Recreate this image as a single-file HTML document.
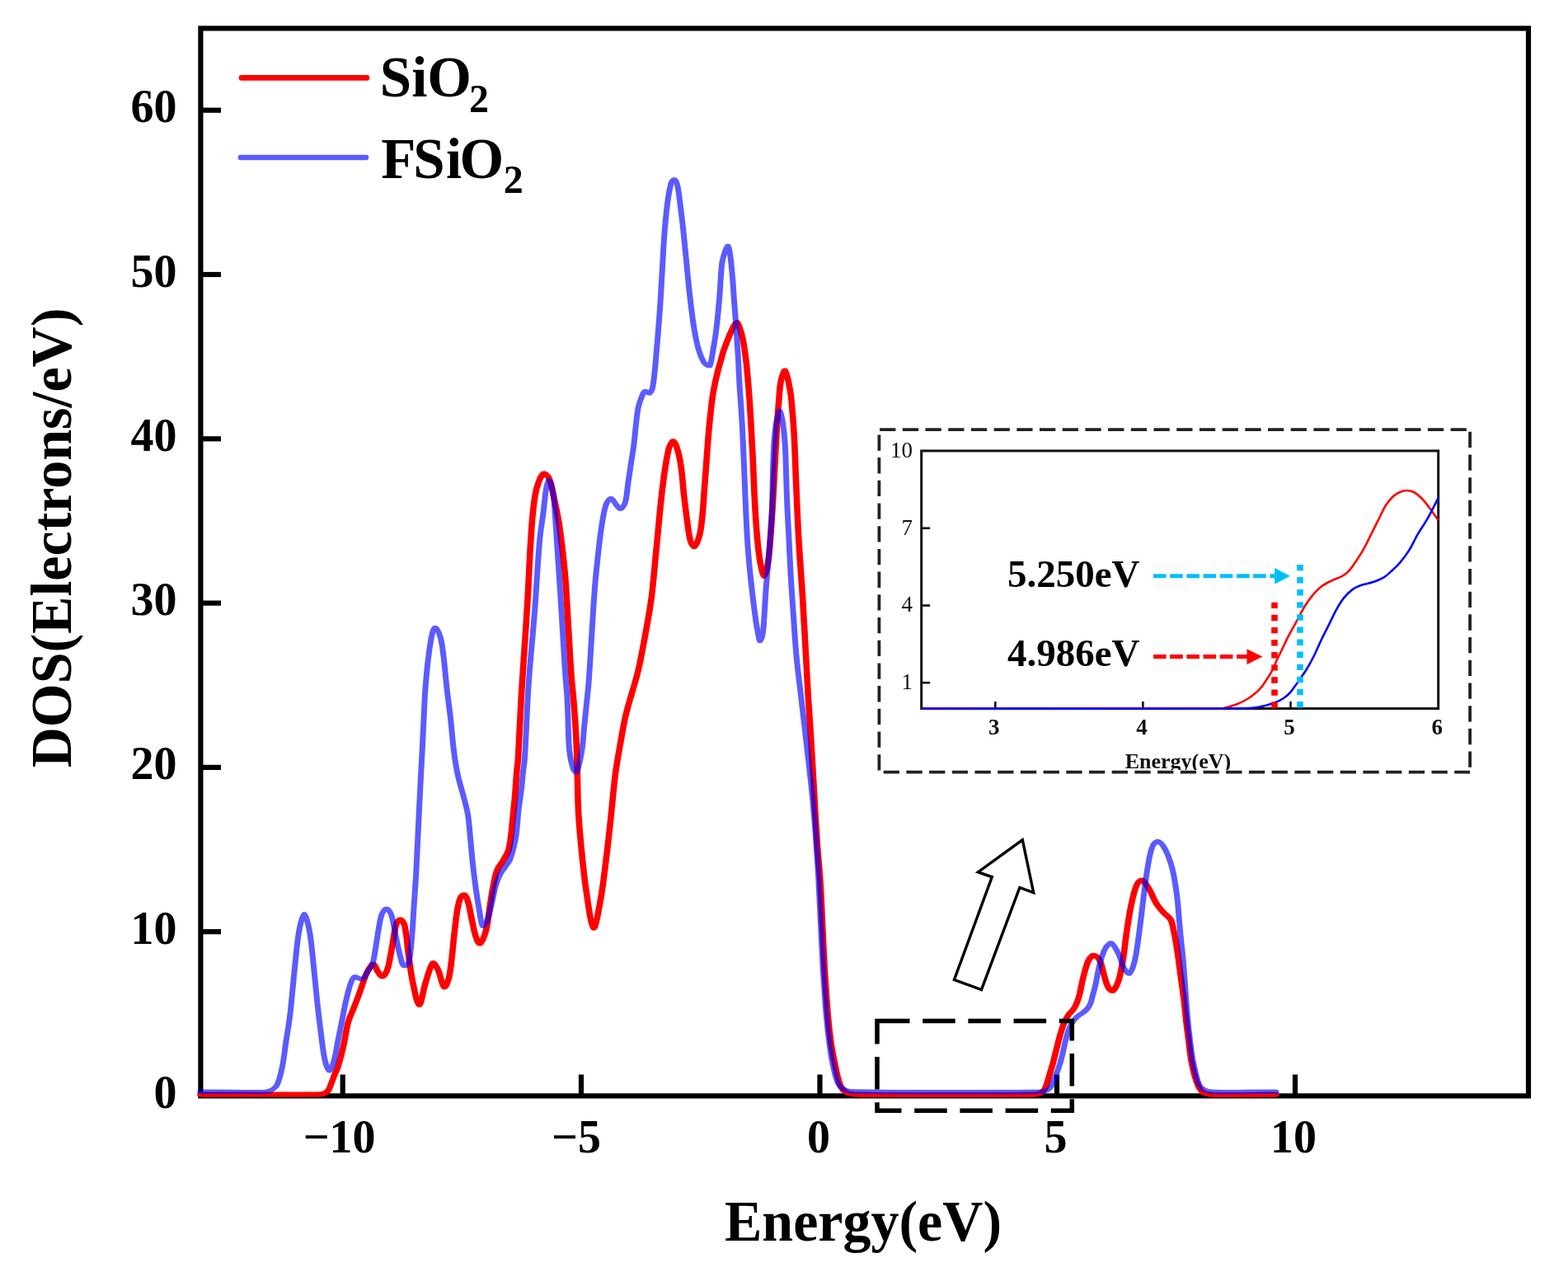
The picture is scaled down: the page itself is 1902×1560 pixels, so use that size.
<!DOCTYPE html>
<html><head><meta charset="utf-8"><title>DOS plot</title>
<style>html,body{margin:0;padding:0;background:#fff;width:1902px;height:1560px;overflow:hidden}svg{display:block}</style>
</head><body>
<svg width="1902" height="1560" viewBox="0 0 1902 1560" font-family="'Liberation Serif', 'Times New Roman', serif" font-weight="bold">
<rect width="1902" height="1560" fill="#fff"/>
<rect x="243.4" y="34.4" width="1610.6" height="1295.0" fill="none" stroke="#000" stroke-width="6.2" stroke-linejoin="miter"/>
<line x1="243.4" y1="1130.2" x2="268" y2="1130.2" stroke="#000" stroke-width="6.2"/>
<line x1="243.4" y1="930.9" x2="268" y2="930.9" stroke="#000" stroke-width="6.2"/>
<line x1="243.4" y1="731.6" x2="268" y2="731.6" stroke="#000" stroke-width="6.2"/>
<line x1="243.4" y1="532.3" x2="268" y2="532.3" stroke="#000" stroke-width="6.2"/>
<line x1="243.4" y1="333.0" x2="268" y2="333.0" stroke="#000" stroke-width="6.2"/>
<line x1="243.4" y1="133.7" x2="268" y2="133.7" stroke="#000" stroke-width="6.2"/>
<line x1="415.7" y1="1329.4" x2="415.7" y2="1303.5" stroke="#000" stroke-width="6.2"/>
<line x1="705.0" y1="1329.4" x2="705.0" y2="1303.5" stroke="#000" stroke-width="6.2"/>
<line x1="994.5" y1="1329.4" x2="994.5" y2="1303.5" stroke="#000" stroke-width="6.2"/>
<line x1="1282.0" y1="1329.4" x2="1282.0" y2="1303.5" stroke="#000" stroke-width="6.2"/>
<line x1="1571.0" y1="1329.4" x2="1571.0" y2="1303.5" stroke="#000" stroke-width="6.2"/>
<g font-size="56" text-anchor="end">
<text x="214.5" y="1344.0">0</text>
<text x="214.5" y="1144.7">10</text>
<text x="214.5" y="945.4">20</text>
<text x="214.5" y="746.1">30</text>
<text x="214.5" y="546.8">40</text>
<text x="214.5" y="347.5">50</text>
<text x="214.5" y="148.2">60</text>
</g>
<g font-size="56" text-anchor="middle">
<text x="411.6" y="1398">−10</text>
<text x="699.0" y="1398">−5</text>
<text x="993.1" y="1398">0</text>
<text x="1280.6" y="1398">5</text>
<text x="1569.1" y="1398">10</text>
</g>
<text transform="translate(1047,1505) scale(1,1.04)" font-size="68" text-anchor="middle">Energy(eV)</text>
<text transform="translate(86,652.5) rotate(-90) scale(1,1.04)" font-size="68" text-anchor="middle">DOS(Electrons/eV)</text>
<line x1="293" y1="94.4" x2="445" y2="94.4" stroke="#f00" stroke-width="6.6" stroke-linecap="round"/>
<line x1="292" y1="191" x2="444" y2="191" stroke="#00f" stroke-opacity="0.64" stroke-width="6.6" stroke-linecap="round"/>
<text x="460.8" y="117.3" font-size="69">SiO<tspan x="569" y="136" font-size="48">2</tspan></text>
<text x="462.3 501.3 540.9 557.5" y="215.9" font-size="69">FSiO<tspan x="610.8" y="233.6" font-size="48">2</tspan></text>
<g fill="none" stroke="#f00" stroke-width="5.80" stroke-linejoin="round" stroke-linecap="round">
<path transform="translate(-0.9,0)" d="M243.0 1327.6C290.3 1327.6 337.7 1327.9 385.0 1327.6C387.7 1327.6 390.5 1327.4 393.0 1326.5C394.9 1325.8 396.9 1324.6 398.0 1323.0C399.9 1320.4 400.8 1317.0 402.0 1314.0C403.3 1310.9 404.3 1307.6 405.5 1304.5C406.9 1301.0 408.8 1297.7 409.9 1294.1C412.3 1286.4 414.4 1278.5 416.2 1270.6C418.6 1260.2 419.8 1249.5 422.5 1239.2C424.0 1233.8 426.8 1228.8 428.8 1223.5C431.5 1216.7 434.1 1209.9 436.6 1203.0C439.3 1195.7 441.3 1188.2 444.4 1181.1C446.0 1177.5 448.1 1173.9 450.5 1171.0C451.1 1170.2 452.9 1169.4 453.5 1170.0C455.4 1171.7 456.3 1175.5 458.0 1178.0C459.5 1180.3 461.2 1183.6 463.1 1184.5C464.2 1185.0 466.2 1183.2 467.0 1182.0C468.7 1179.6 469.9 1176.5 470.7 1173.6C472.8 1165.3 474.1 1156.7 475.7 1148.3C477.5 1139.1 478.1 1129.3 480.8 1120.6C481.5 1118.4 484.3 1115.1 485.8 1115.5C487.7 1116.0 490.2 1120.2 490.9 1123.1C493.6 1135.3 494.1 1148.4 495.9 1161.0C497.4 1171.5 498.6 1182.1 500.9 1192.5C502.8 1201.5 506.0 1219.0 508.5 1219.0C511.0 1219.0 513.3 1201.2 516.1 1192.5C518.7 1184.4 521.3 1172.4 524.9 1168.5C526.3 1167.0 529.8 1173.2 531.2 1176.1C534.4 1182.8 536.0 1196.0 538.8 1197.5C540.7 1198.5 544.1 1188.6 545.1 1183.7C548.1 1167.9 548.9 1151.5 550.8 1135.4C552.0 1125.1 552.9 1114.8 554.6 1104.6C555.5 1099.4 556.4 1093.9 558.5 1089.2C559.3 1087.5 561.9 1084.8 563.1 1085.4C565.0 1086.3 566.8 1090.8 567.7 1093.8C569.8 1100.8 570.7 1108.2 572.3 1115.4C573.8 1122.1 574.9 1128.9 576.9 1135.4C577.9 1138.6 579.7 1144.0 581.5 1144.6C582.8 1145.0 585.2 1140.8 586.2 1138.5C588.3 1133.7 589.7 1128.3 590.8 1123.1C592.5 1114.5 593.2 1105.6 594.6 1096.9C595.8 1089.2 596.9 1081.4 598.5 1073.8C599.8 1067.6 600.8 1061.2 603.1 1055.4C604.9 1051.0 608.4 1047.3 610.8 1043.1C613.0 1039.1 615.6 1035.1 616.9 1030.8C618.7 1024.9 619.2 1018.5 620.0 1012.3C621.0 1004.6 621.5 996.9 622.3 989.2C623.1 981.5 623.9 973.9 624.6 966.2C625.5 955.9 626.0 945.7 626.9 935.4C627.3 930.3 628.2 925.2 628.5 920.0C630.0 894.5 630.9 868.9 632.4 843.4C634.2 813.9 636.4 784.4 638.3 754.9C639.2 740.9 640.0 727.0 640.8 713.0C641.6 697.6 642.2 682.3 643.1 666.9C644.1 651.5 644.9 636.0 646.5 620.7C647.5 611.0 648.5 601.2 651.1 591.9C652.8 585.8 655.8 577.2 659.2 574.6C660.8 573.4 664.9 577.8 666.1 580.4C669.2 587.4 670.2 595.7 671.9 603.4C674.0 613.0 676.1 622.6 677.7 632.3C679.6 643.8 680.9 655.3 682.3 666.9C683.6 678.4 684.9 689.9 685.8 701.5C686.9 714.7 687.5 728.0 688.3 741.2C689.1 754.9 689.9 768.5 690.7 782.2C691.5 795.9 692.3 809.5 693.3 823.2C693.8 830.0 694.7 836.9 695.3 843.7C695.8 849.8 696.4 855.9 696.8 862.0C697.5 871.9 698.2 881.9 698.7 891.8C699.3 903.8 699.7 915.7 700.1 927.7C700.7 946.7 700.6 965.7 701.6 984.6C702.5 1001.6 704.1 1018.5 705.8 1035.4C707.4 1051.4 709.0 1067.5 711.5 1083.4C713.7 1097.6 716.9 1124.1 720.0 1125.7C722.5 1127.0 726.3 1103.3 728.4 1091.9C731.5 1075.1 733.3 1058.0 735.4 1041.0C737.5 1024.1 739.3 1007.2 741.1 990.3C742.9 973.5 744.2 956.7 746.3 940.0C747.8 928.3 749.9 916.6 752.0 905.0C754.2 892.3 756.2 879.5 759.2 867.0C763.5 849.2 769.7 831.7 774.0 813.9C777.5 799.3 780.1 784.4 782.8 769.6C785.5 754.9 788.3 740.2 790.2 725.4C792.7 705.8 794.1 686.1 796.1 666.4C798.6 641.8 800.5 617.2 803.5 592.7C805.4 576.9 807.4 560.9 810.9 545.5C811.8 541.7 814.9 535.1 816.7 535.2C818.6 535.3 820.9 542.2 822.0 546.0C824.1 553.2 825.4 560.7 826.4 568.2C827.9 578.8 828.4 589.6 829.6 600.3C830.8 611.0 832.1 621.7 833.6 632.3C834.7 640.3 835.4 648.7 837.6 656.3C838.3 658.9 841.1 663.9 842.4 663.0C844.9 661.2 847.5 653.4 848.8 648.3C850.7 640.5 851.3 632.3 852.1 624.3C853.2 613.6 853.7 602.9 854.5 592.2C855.3 581.5 856.1 570.9 856.9 560.2C857.7 549.5 858.4 538.8 859.3 528.1C860.2 517.4 861.3 506.7 862.5 496.1C863.3 488.7 864.2 481.3 865.5 474.0C866.9 466.3 868.6 458.6 870.5 451.0C871.6 446.3 873.2 441.7 874.5 437.0C875.5 433.3 876.3 429.6 877.5 426.0C879.8 419.4 882.3 412.9 885.0 406.5C886.8 402.2 888.6 397.8 891.0 394.0C891.8 392.8 894.0 390.5 894.6 391.5C897.4 396.3 899.5 404.6 901.0 411.3C902.9 419.7 903.8 428.3 904.9 436.9C906.0 445.4 906.6 454.0 907.4 462.6C908.1 471.1 908.8 479.7 909.4 488.2C910.1 498.9 910.7 509.6 911.3 520.3C912.0 532.2 912.6 544.1 913.2 556.0C914.0 572.7 914.5 589.5 915.4 606.2C916.2 621.6 917.1 637.0 918.5 652.3C919.4 662.6 920.5 672.9 922.3 683.1C923.3 688.5 925.4 699.0 926.9 699.0C928.4 699.0 930.6 688.5 931.5 683.1C933.2 673.0 933.8 662.6 934.6 652.3C935.8 637.0 936.8 621.6 937.7 606.2C938.8 588.5 939.5 570.7 940.5 553.0C941.2 539.9 941.9 526.9 942.7 513.8C943.2 505.3 943.9 496.7 944.6 488.2C945.4 479.7 945.5 470.9 947.2 462.6C948.1 458.1 951.0 448.2 952.3 449.7C954.8 452.5 957.2 466.7 958.7 475.4C960.2 483.8 960.6 492.5 961.3 501.0C962.1 509.6 962.7 518.1 963.2 526.7C963.8 536.5 964.1 546.2 964.5 556.0C965.2 572.7 965.7 589.3 966.5 606.0C967.3 624.0 968.1 642.0 969.2 660.0C970.4 680.5 972.1 701.0 973.4 721.5C974.7 742.0 975.8 762.5 976.9 783.0C978.1 803.5 979.1 824.1 980.3 844.6C981.2 860.0 982.4 875.4 983.4 890.8C984.7 911.0 985.8 931.2 987.0 951.4C987.8 964.9 988.5 978.3 989.3 991.8C990.1 1004.5 990.9 1017.3 991.8 1030.0C992.8 1043.1 994.2 1056.2 995.0 1069.3C996.2 1088.1 996.9 1106.9 997.8 1125.7C998.8 1144.5 999.5 1163.4 1000.7 1182.2C1001.9 1201.0 1003.2 1219.8 1004.9 1238.6C1005.7 1247.4 1006.7 1256.2 1008.0 1265.0C1009.2 1273.2 1010.7 1281.3 1012.5 1289.4C1014.5 1298.7 1016.0 1308.4 1019.5 1317.0C1020.9 1320.4 1023.8 1323.9 1027.0 1325.5C1030.7 1327.4 1035.6 1327.6 1040.0 1327.6C1111.6 1328.3 1183.4 1328.1 1255.0 1327.6C1257.4 1327.6 1259.8 1326.9 1262.0 1326.0C1263.3 1325.5 1264.6 1324.6 1265.5 1323.5C1266.8 1322.0 1267.9 1320.1 1268.6 1318.2C1270.4 1313.6 1271.6 1308.7 1273.0 1304.0C1274.5 1298.9 1276.1 1293.8 1277.5 1288.7C1280.1 1278.9 1282.2 1269.0 1284.9 1259.2C1286.5 1253.3 1288.2 1247.3 1290.5 1241.6C1292.0 1237.9 1293.9 1234.3 1296.1 1231.0C1297.7 1228.7 1300.2 1227.0 1301.8 1224.7C1303.5 1222.3 1304.9 1219.7 1306.0 1217.0C1307.4 1213.6 1308.6 1210.0 1309.5 1206.4C1310.7 1201.8 1311.3 1197.0 1312.4 1192.3C1313.5 1187.6 1314.6 1182.9 1315.9 1178.2C1317.1 1173.9 1318.3 1169.5 1320.1 1165.5C1321.1 1163.4 1322.6 1161.3 1324.3 1159.9C1325.2 1159.2 1326.8 1158.9 1327.9 1159.2C1329.4 1159.6 1331.1 1160.7 1332.1 1162.0C1333.7 1164.0 1334.7 1166.6 1335.6 1169.0C1336.8 1172.4 1337.4 1176.1 1338.4 1179.6C1339.6 1183.8 1340.5 1188.2 1342.0 1192.3C1342.9 1194.8 1343.8 1197.6 1345.5 1199.5C1346.6 1200.7 1349.2 1202.6 1350.3 1201.7C1353.0 1199.3 1355.4 1194.0 1356.8 1189.7C1359.4 1181.3 1360.8 1172.3 1362.3 1163.5C1364.1 1152.7 1365.0 1141.7 1366.6 1130.8C1368.2 1119.9 1369.8 1108.9 1372.1 1098.1C1373.8 1090.0 1375.4 1081.5 1378.6 1074.1C1379.8 1071.3 1383.2 1067.0 1385.2 1067.6C1388.3 1068.5 1391.5 1074.6 1393.9 1078.5C1397.3 1084.0 1399.2 1090.4 1402.6 1095.9C1405.0 1099.8 1408.2 1103.3 1411.3 1106.8C1414.0 1109.9 1418.0 1112.1 1420.0 1115.5C1422.1 1119.1 1422.5 1123.8 1423.5 1128.0C1424.4 1131.8 1425.1 1135.7 1425.8 1139.6C1426.9 1146.0 1427.9 1152.4 1428.8 1158.8C1429.6 1164.2 1430.3 1169.5 1431.0 1174.9C1432.0 1182.1 1432.9 1189.2 1433.9 1196.4C1434.8 1202.9 1435.7 1209.5 1436.5 1216.0C1437.2 1222.3 1437.7 1228.7 1438.4 1235.0C1439.4 1244.0 1440.6 1253.0 1441.8 1262.0C1442.8 1270.2 1443.6 1278.4 1445.0 1286.5C1446.1 1293.0 1447.6 1299.4 1449.4 1305.8C1450.5 1309.7 1451.7 1313.7 1453.5 1317.3C1454.9 1320.1 1456.5 1323.4 1459.0 1325.0C1462.0 1326.9 1466.2 1327.5 1470.0 1327.6C1495.9 1328.4 1522.0 1327.6 1548.0 1327.6"/>
<path transform="translate(0.9,0)" d="M243.0 1327.6C290.3 1327.6 337.7 1327.9 385.0 1327.6C387.7 1327.6 390.5 1327.4 393.0 1326.5C394.9 1325.8 396.9 1324.6 398.0 1323.0C399.9 1320.4 400.8 1317.0 402.0 1314.0C403.3 1310.9 404.3 1307.6 405.5 1304.5C406.9 1301.0 408.8 1297.7 409.9 1294.1C412.3 1286.4 414.4 1278.5 416.2 1270.6C418.6 1260.2 419.8 1249.5 422.5 1239.2C424.0 1233.8 426.8 1228.8 428.8 1223.5C431.5 1216.7 434.1 1209.9 436.6 1203.0C439.3 1195.7 441.3 1188.2 444.4 1181.1C446.0 1177.5 448.1 1173.9 450.5 1171.0C451.1 1170.2 452.9 1169.4 453.5 1170.0C455.4 1171.7 456.3 1175.5 458.0 1178.0C459.5 1180.3 461.2 1183.6 463.1 1184.5C464.2 1185.0 466.2 1183.2 467.0 1182.0C468.7 1179.6 469.9 1176.5 470.7 1173.6C472.8 1165.3 474.1 1156.7 475.7 1148.3C477.5 1139.1 478.1 1129.3 480.8 1120.6C481.5 1118.4 484.3 1115.1 485.8 1115.5C487.7 1116.0 490.2 1120.2 490.9 1123.1C493.6 1135.3 494.1 1148.4 495.9 1161.0C497.4 1171.5 498.6 1182.1 500.9 1192.5C502.8 1201.5 506.0 1219.0 508.5 1219.0C511.0 1219.0 513.3 1201.2 516.1 1192.5C518.7 1184.4 521.3 1172.4 524.9 1168.5C526.3 1167.0 529.8 1173.2 531.2 1176.1C534.4 1182.8 536.0 1196.0 538.8 1197.5C540.7 1198.5 544.1 1188.6 545.1 1183.7C548.1 1167.9 548.9 1151.5 550.8 1135.4C552.0 1125.1 552.9 1114.8 554.6 1104.6C555.5 1099.4 556.4 1093.9 558.5 1089.2C559.3 1087.5 561.9 1084.8 563.1 1085.4C565.0 1086.3 566.8 1090.8 567.7 1093.8C569.8 1100.8 570.7 1108.2 572.3 1115.4C573.8 1122.1 574.9 1128.9 576.9 1135.4C577.9 1138.6 579.7 1144.0 581.5 1144.6C582.8 1145.0 585.2 1140.8 586.2 1138.5C588.3 1133.7 589.7 1128.3 590.8 1123.1C592.5 1114.5 593.2 1105.6 594.6 1096.9C595.8 1089.2 596.9 1081.4 598.5 1073.8C599.8 1067.6 600.8 1061.2 603.1 1055.4C604.9 1051.0 608.4 1047.3 610.8 1043.1C613.0 1039.1 615.6 1035.1 616.9 1030.8C618.7 1024.9 619.2 1018.5 620.0 1012.3C621.0 1004.6 621.5 996.9 622.3 989.2C623.1 981.5 623.9 973.9 624.6 966.2C625.5 955.9 626.0 945.7 626.9 935.4C627.3 930.3 628.2 925.2 628.5 920.0C630.0 894.5 630.9 868.9 632.4 843.4C634.2 813.9 636.4 784.4 638.3 754.9C639.2 740.9 640.0 727.0 640.8 713.0C641.6 697.6 642.2 682.3 643.1 666.9C644.1 651.5 644.9 636.0 646.5 620.7C647.5 611.0 648.5 601.2 651.1 591.9C652.8 585.8 655.8 577.2 659.2 574.6C660.8 573.4 664.9 577.8 666.1 580.4C669.2 587.4 670.2 595.7 671.9 603.4C674.0 613.0 676.1 622.6 677.7 632.3C679.6 643.8 680.9 655.3 682.3 666.9C683.6 678.4 684.9 689.9 685.8 701.5C686.9 714.7 687.5 728.0 688.3 741.2C689.1 754.9 689.9 768.5 690.7 782.2C691.5 795.9 692.3 809.5 693.3 823.2C693.8 830.0 694.7 836.9 695.3 843.7C695.8 849.8 696.4 855.9 696.8 862.0C697.5 871.9 698.2 881.9 698.7 891.8C699.3 903.8 699.7 915.7 700.1 927.7C700.7 946.7 700.6 965.7 701.6 984.6C702.5 1001.6 704.1 1018.5 705.8 1035.4C707.4 1051.4 709.0 1067.5 711.5 1083.4C713.7 1097.6 716.9 1124.1 720.0 1125.7C722.5 1127.0 726.3 1103.3 728.4 1091.9C731.5 1075.1 733.3 1058.0 735.4 1041.0C737.5 1024.1 739.3 1007.2 741.1 990.3C742.9 973.5 744.2 956.7 746.3 940.0C747.8 928.3 749.9 916.6 752.0 905.0C754.2 892.3 756.2 879.5 759.2 867.0C763.5 849.2 769.7 831.7 774.0 813.9C777.5 799.3 780.1 784.4 782.8 769.6C785.5 754.9 788.3 740.2 790.2 725.4C792.7 705.8 794.1 686.1 796.1 666.4C798.6 641.8 800.5 617.2 803.5 592.7C805.4 576.9 807.4 560.9 810.9 545.5C811.8 541.7 814.9 535.1 816.7 535.2C818.6 535.3 820.9 542.2 822.0 546.0C824.1 553.2 825.4 560.7 826.4 568.2C827.9 578.8 828.4 589.6 829.6 600.3C830.8 611.0 832.1 621.7 833.6 632.3C834.7 640.3 835.4 648.7 837.6 656.3C838.3 658.9 841.1 663.9 842.4 663.0C844.9 661.2 847.5 653.4 848.8 648.3C850.7 640.5 851.3 632.3 852.1 624.3C853.2 613.6 853.7 602.9 854.5 592.2C855.3 581.5 856.1 570.9 856.9 560.2C857.7 549.5 858.4 538.8 859.3 528.1C860.2 517.4 861.3 506.7 862.5 496.1C863.3 488.7 864.2 481.3 865.5 474.0C866.9 466.3 868.6 458.6 870.5 451.0C871.6 446.3 873.2 441.7 874.5 437.0C875.5 433.3 876.3 429.6 877.5 426.0C879.8 419.4 882.3 412.9 885.0 406.5C886.8 402.2 888.6 397.8 891.0 394.0C891.8 392.8 894.0 390.5 894.6 391.5C897.4 396.3 899.5 404.6 901.0 411.3C902.9 419.7 903.8 428.3 904.9 436.9C906.0 445.4 906.6 454.0 907.4 462.6C908.1 471.1 908.8 479.7 909.4 488.2C910.1 498.9 910.7 509.6 911.3 520.3C912.0 532.2 912.6 544.1 913.2 556.0C914.0 572.7 914.5 589.5 915.4 606.2C916.2 621.6 917.1 637.0 918.5 652.3C919.4 662.6 920.5 672.9 922.3 683.1C923.3 688.5 925.4 699.0 926.9 699.0C928.4 699.0 930.6 688.5 931.5 683.1C933.2 673.0 933.8 662.6 934.6 652.3C935.8 637.0 936.8 621.6 937.7 606.2C938.8 588.5 939.5 570.7 940.5 553.0C941.2 539.9 941.9 526.9 942.7 513.8C943.2 505.3 943.9 496.7 944.6 488.2C945.4 479.7 945.5 470.9 947.2 462.6C948.1 458.1 951.0 448.2 952.3 449.7C954.8 452.5 957.2 466.7 958.7 475.4C960.2 483.8 960.6 492.5 961.3 501.0C962.1 509.6 962.7 518.1 963.2 526.7C963.8 536.5 964.1 546.2 964.5 556.0C965.2 572.7 965.7 589.3 966.5 606.0C967.3 624.0 968.1 642.0 969.2 660.0C970.4 680.5 972.1 701.0 973.4 721.5C974.7 742.0 975.8 762.5 976.9 783.0C978.1 803.5 979.1 824.1 980.3 844.6C981.2 860.0 982.4 875.4 983.4 890.8C984.7 911.0 985.8 931.2 987.0 951.4C987.8 964.9 988.5 978.3 989.3 991.8C990.1 1004.5 990.9 1017.3 991.8 1030.0C992.8 1043.1 994.2 1056.2 995.0 1069.3C996.2 1088.1 996.9 1106.9 997.8 1125.7C998.8 1144.5 999.5 1163.4 1000.7 1182.2C1001.9 1201.0 1003.2 1219.8 1004.9 1238.6C1005.7 1247.4 1006.7 1256.2 1008.0 1265.0C1009.2 1273.2 1010.7 1281.3 1012.5 1289.4C1014.5 1298.7 1016.0 1308.4 1019.5 1317.0C1020.9 1320.4 1023.8 1323.9 1027.0 1325.5C1030.7 1327.4 1035.6 1327.6 1040.0 1327.6C1111.6 1328.3 1183.4 1328.1 1255.0 1327.6C1257.4 1327.6 1259.8 1326.9 1262.0 1326.0C1263.3 1325.5 1264.6 1324.6 1265.5 1323.5C1266.8 1322.0 1267.9 1320.1 1268.6 1318.2C1270.4 1313.6 1271.6 1308.7 1273.0 1304.0C1274.5 1298.9 1276.1 1293.8 1277.5 1288.7C1280.1 1278.9 1282.2 1269.0 1284.9 1259.2C1286.5 1253.3 1288.2 1247.3 1290.5 1241.6C1292.0 1237.9 1293.9 1234.3 1296.1 1231.0C1297.7 1228.7 1300.2 1227.0 1301.8 1224.7C1303.5 1222.3 1304.9 1219.7 1306.0 1217.0C1307.4 1213.6 1308.6 1210.0 1309.5 1206.4C1310.7 1201.8 1311.3 1197.0 1312.4 1192.3C1313.5 1187.6 1314.6 1182.9 1315.9 1178.2C1317.1 1173.9 1318.3 1169.5 1320.1 1165.5C1321.1 1163.4 1322.6 1161.3 1324.3 1159.9C1325.2 1159.2 1326.8 1158.9 1327.9 1159.2C1329.4 1159.6 1331.1 1160.7 1332.1 1162.0C1333.7 1164.0 1334.7 1166.6 1335.6 1169.0C1336.8 1172.4 1337.4 1176.1 1338.4 1179.6C1339.6 1183.8 1340.5 1188.2 1342.0 1192.3C1342.9 1194.8 1343.8 1197.6 1345.5 1199.5C1346.6 1200.7 1349.2 1202.6 1350.3 1201.7C1353.0 1199.3 1355.4 1194.0 1356.8 1189.7C1359.4 1181.3 1360.8 1172.3 1362.3 1163.5C1364.1 1152.7 1365.0 1141.7 1366.6 1130.8C1368.2 1119.9 1369.8 1108.9 1372.1 1098.1C1373.8 1090.0 1375.4 1081.5 1378.6 1074.1C1379.8 1071.3 1383.2 1067.0 1385.2 1067.6C1388.3 1068.5 1391.5 1074.6 1393.9 1078.5C1397.3 1084.0 1399.2 1090.4 1402.6 1095.9C1405.0 1099.8 1408.2 1103.3 1411.3 1106.8C1414.0 1109.9 1418.0 1112.1 1420.0 1115.5C1422.1 1119.1 1422.5 1123.8 1423.5 1128.0C1424.4 1131.8 1425.1 1135.7 1425.8 1139.6C1426.9 1146.0 1427.9 1152.4 1428.8 1158.8C1429.6 1164.2 1430.3 1169.5 1431.0 1174.9C1432.0 1182.1 1432.9 1189.2 1433.9 1196.4C1434.8 1202.9 1435.7 1209.5 1436.5 1216.0C1437.2 1222.3 1437.7 1228.7 1438.4 1235.0C1439.4 1244.0 1440.6 1253.0 1441.8 1262.0C1442.8 1270.2 1443.6 1278.4 1445.0 1286.5C1446.1 1293.0 1447.6 1299.4 1449.4 1305.8C1450.5 1309.7 1451.7 1313.7 1453.5 1317.3C1454.9 1320.1 1456.5 1323.4 1459.0 1325.0C1462.0 1326.9 1466.2 1327.5 1470.0 1327.6C1495.9 1328.4 1522.0 1327.6 1548.0 1327.6"/>
</g>
<g opacity="0.64" fill="none" stroke="#00f" stroke-width="5.20" stroke-linejoin="round" stroke-linecap="round">
<path transform="translate(-0.9,0)" d="M243.0 1324.3C269.3 1324.3 295.7 1324.8 322.0 1324.3C324.4 1324.2 327.0 1323.7 329.0 1322.5C331.7 1320.9 334.8 1318.8 336.1 1316.0C339.2 1309.3 340.9 1301.5 342.4 1294.0C344.5 1283.7 345.5 1273.1 347.1 1262.7C348.7 1252.2 350.5 1241.8 351.8 1231.3C353.1 1220.9 353.9 1210.4 355.0 1199.9C356.0 1189.4 356.9 1179.0 358.1 1168.5C359.5 1155.4 360.4 1142.2 362.8 1129.3C364.1 1122.3 367.0 1108.9 369.1 1108.9C371.2 1108.9 374.1 1122.3 375.4 1129.3C377.8 1142.2 378.7 1155.4 380.1 1168.5C381.8 1184.2 383.1 1199.9 384.8 1215.6C386.2 1228.7 387.8 1241.8 389.5 1254.9C390.9 1265.4 391.8 1276.1 394.2 1286.3C395.2 1290.7 397.9 1298.8 399.7 1298.8C401.5 1298.8 404.0 1290.7 405.2 1286.3C407.4 1278.6 408.3 1270.6 409.9 1262.7C411.5 1254.9 413.0 1247.0 414.6 1239.2C416.2 1231.3 417.5 1223.4 419.3 1215.6C421.1 1207.7 422.9 1199.7 425.6 1192.1C426.6 1189.4 428.2 1185.8 430.3 1184.9C431.9 1184.2 434.5 1187.2 436.6 1187.4C438.2 1187.6 440.5 1187.3 441.6 1186.2C443.8 1184.0 444.9 1180.3 446.7 1177.4C448.3 1174.8 450.8 1172.6 451.7 1169.8C453.7 1163.8 454.4 1157.2 455.5 1150.9C456.9 1142.9 457.8 1134.9 459.3 1126.9C460.4 1121.0 461.0 1114.7 463.1 1109.2C464.1 1106.5 466.9 1102.3 468.8 1102.3C470.7 1102.3 473.3 1106.5 474.4 1109.2C476.5 1114.3 477.0 1120.1 478.2 1125.6C480.0 1134.0 481.4 1142.5 483.3 1150.9C484.8 1157.3 486.1 1163.8 488.3 1169.8C488.7 1170.8 490.1 1172.0 490.9 1171.7C492.6 1171.1 495.4 1169.4 495.9 1167.3C498.3 1157.4 498.7 1146.3 499.7 1135.7C500.8 1123.1 501.4 1110.5 502.2 1097.9C503.0 1085.3 504.0 1072.6 504.7 1060.0C506.2 1031.7 507.3 1003.3 508.8 975.0C509.8 953.8 511.0 932.7 512.1 911.5C512.8 898.7 513.3 885.8 514.0 873.0C514.6 860.2 515.0 847.4 516.0 834.6C517.0 821.7 518.2 808.8 519.8 796.0C521.0 786.4 522.4 776.6 524.6 767.3C525.1 765.1 527.0 760.8 528.1 761.5C530.2 762.7 533.0 768.9 534.2 773.0C536.3 780.4 537.0 788.3 538.0 796.0C539.6 808.8 540.5 821.7 542.0 834.6C543.4 847.4 545.3 860.2 546.7 873.0C548.1 885.8 548.9 898.7 550.6 911.5C551.8 921.2 553.3 930.9 555.4 940.4C557.5 950.1 560.7 959.6 563.1 969.2C564.8 975.8 566.7 982.4 567.7 989.2C569.2 999.4 569.8 1009.7 570.8 1020.0C571.8 1030.3 572.7 1040.6 573.8 1050.8C575.0 1061.1 576.2 1071.3 577.7 1081.5C578.8 1089.2 580.1 1096.9 581.5 1104.6C582.6 1110.8 583.2 1120.2 585.4 1123.1C586.3 1124.3 589.8 1119.4 590.8 1116.9C593.7 1109.6 595.0 1101.5 596.9 1093.8C598.5 1087.2 599.6 1080.4 601.5 1073.8C602.7 1069.6 604.2 1065.4 606.2 1061.5C607.8 1058.2 610.3 1055.4 612.3 1052.3C614.4 1049.2 617.0 1046.4 618.5 1043.1C620.6 1038.2 621.8 1032.9 623.1 1027.7C624.4 1022.6 625.5 1017.5 626.2 1012.3C627.5 1002.1 628.0 991.7 629.2 981.5C630.1 973.8 631.4 966.2 632.3 958.5C633.2 950.8 633.8 943.1 634.6 935.4C635.2 930.3 636.2 925.2 636.5 920.0C638.4 889.6 639.2 859.0 641.3 828.6C643.3 799.1 646.4 769.7 648.7 740.2C650.9 711.9 652.1 683.6 654.6 655.4C655.6 643.8 657.7 632.3 659.2 620.7C660.4 611.1 661.0 601.4 662.7 591.9C663.3 588.7 665.1 582.0 666.1 582.7C667.8 583.9 669.9 592.6 670.8 597.7C672.2 605.2 672.5 613.0 673.1 620.7C674.0 632.3 674.6 643.8 675.4 655.4C676.4 670.3 677.4 685.3 678.4 700.2C679.3 713.9 680.1 727.5 681.0 741.2C681.8 754.9 682.7 768.5 683.5 782.2C684.4 795.9 685.1 809.5 686.1 823.2C686.6 830.0 687.4 836.9 687.8 843.7C688.3 850.8 688.5 857.8 688.8 864.9C689.4 879.9 689.2 894.9 690.6 909.8C691.3 917.4 692.8 925.2 695.1 932.2C695.8 934.2 698.9 938.1 699.6 936.7C702.5 930.6 704.4 918.9 705.9 909.8C707.4 900.9 707.7 891.8 708.6 882.8C709.5 873.8 710.4 864.9 711.3 855.9C712.2 846.9 713.3 838.0 714.0 829.0C715.4 811.0 716.3 793.0 717.5 775.0C718.8 754.3 719.9 733.6 721.5 713.0C722.7 697.6 724.4 682.2 726.1 666.9C727.4 655.3 728.8 643.8 730.7 632.3C731.9 625.3 733.0 618.0 735.4 611.5C736.4 608.8 739.2 604.6 741.1 604.6C743.0 604.6 744.9 609.3 746.9 611.5C748.7 613.5 751.0 617.6 752.7 617.3C754.8 616.9 757.5 612.3 758.4 609.2C760.6 601.9 760.7 593.8 761.9 586.1C763.0 578.4 764.2 570.8 765.3 563.1C766.5 555.4 767.8 547.7 768.8 540.0C770.7 525.2 771.4 510.1 774.0 495.4C775.1 489.3 777.5 483.3 779.9 477.7C780.5 476.4 781.8 474.6 783.0 474.5C784.5 474.4 786.9 477.8 788.0 477.0C789.9 475.6 791.5 471.2 792.0 468.0C794.4 453.0 795.3 437.5 796.7 422.3C798.1 406.8 799.3 391.3 800.4 375.8C801.5 360.3 802.3 344.9 803.2 329.4C804.1 313.9 804.8 298.4 806.0 282.9C807.0 270.5 808.0 258.1 809.7 245.8C810.8 237.7 812.0 229.3 814.3 221.6C814.8 220.0 817.0 217.4 818.0 217.9C819.5 218.7 821.2 222.6 821.8 225.3C823.7 233.8 824.4 242.6 825.5 251.3C826.9 261.8 828.1 272.4 829.2 282.9C830.5 295.3 831.7 307.7 832.9 320.1C834.1 332.5 835.2 344.9 836.6 357.3C838.0 369.7 839.4 382.1 841.3 394.4C842.8 403.8 844.4 413.2 846.9 422.3C848.5 428.0 850.6 433.9 853.4 439.0C854.5 440.9 856.6 442.5 858.5 443.5C859.3 443.9 861.0 444.1 861.3 443.3C863.2 437.6 864.0 430.5 865.1 424.1C866.6 415.6 868.0 407.1 869.0 398.5C870.5 385.7 871.7 372.8 872.8 360.0C873.9 346.7 874.1 333.3 875.7 320.1C876.3 315.0 877.8 310.0 879.4 305.2C880.2 302.8 882.2 298.1 883.1 298.5C884.2 299.0 885.0 304.8 885.5 308.0C886.4 313.6 886.9 319.3 887.5 325.0C888.2 331.7 888.7 338.3 889.2 345.0C889.7 351.5 890.0 358.1 890.5 364.6C891.1 372.3 891.7 380.0 892.3 387.7C892.8 395.4 893.3 403.1 893.8 410.8C894.3 418.5 895.0 426.1 895.4 433.8C896.0 444.1 896.3 454.3 896.9 464.6C897.3 472.3 898.0 480.0 898.5 487.7C899.2 498.5 899.9 509.2 900.5 520.0C901.2 533.3 901.7 546.7 902.3 560.0C903.2 580.5 903.8 601.0 904.8 621.5C905.6 637.2 906.3 652.9 907.5 668.6C908.7 684.5 910.4 700.3 912.2 716.1C913.6 728.8 915.2 741.5 917.0 754.1C917.7 758.8 918.6 763.4 919.5 768.0C920.1 771.2 920.6 776.7 921.6 777.5C922.2 778.0 924.0 774.0 924.5 772.0C925.5 768.1 925.9 764.0 926.2 760.0C927.4 744.6 928.0 729.2 929.2 713.8C930.3 698.4 931.9 683.1 933.1 667.7C934.3 652.3 935.5 636.9 936.2 621.5C937.2 599.7 937.2 577.8 938.0 556.0C938.4 546.2 938.9 536.4 939.8 526.7C940.4 520.4 941.2 514.1 942.5 508.0C943.2 504.7 945.0 497.7 945.9 498.5C947.4 499.7 948.9 508.6 949.7 513.8C951.0 522.3 951.8 530.9 952.3 539.5C953.5 561.7 953.7 584.0 954.6 606.2C955.2 621.6 956.1 636.9 956.9 652.3C957.7 667.7 958.3 683.1 959.2 698.5C960.1 713.9 961.2 729.2 962.3 744.6C963.5 761.4 964.4 778.2 966.0 795.0C967.5 811.3 969.6 827.5 971.5 843.8C973.6 861.7 975.7 879.7 977.8 897.6C979.9 915.5 982.0 933.5 983.9 951.4C985.3 964.9 986.6 978.3 987.7 991.8C988.8 1004.5 989.6 1017.3 990.5 1030.0C991.4 1043.0 992.3 1056.0 993.0 1069.0C994.0 1087.9 994.8 1106.8 995.8 1125.7C996.7 1144.5 997.5 1163.4 998.7 1182.2C999.9 1201.0 1001.2 1219.8 1002.9 1238.6C1003.7 1247.4 1004.8 1256.2 1006.0 1265.0C1007.1 1273.2 1008.1 1281.4 1009.8 1289.4C1011.6 1297.7 1013.2 1306.4 1016.5 1314.0C1017.9 1317.1 1021.0 1319.9 1024.0 1321.5C1027.2 1323.3 1031.2 1324.2 1035.0 1324.2C1110.6 1325.1 1186.4 1324.8 1262.0 1324.3C1264.7 1324.3 1267.6 1323.7 1270.0 1322.5C1272.0 1321.6 1273.7 1319.8 1275.0 1318.0C1276.5 1315.9 1277.3 1313.3 1278.2 1310.9C1281.0 1303.6 1284.1 1296.2 1286.3 1288.7C1289.1 1279.0 1290.8 1269.0 1293.3 1259.2C1294.2 1255.7 1295.1 1252.1 1296.5 1248.7C1297.9 1245.3 1299.8 1241.9 1301.8 1238.8C1303.2 1236.7 1304.9 1234.8 1306.7 1233.2C1308.9 1231.3 1311.5 1230.0 1313.8 1228.2C1315.5 1226.9 1317.4 1225.6 1318.7 1224.0C1320.4 1221.9 1321.9 1219.5 1322.9 1217.0C1324.2 1213.6 1324.8 1209.9 1325.7 1206.4C1326.7 1202.9 1327.8 1199.4 1328.6 1195.8C1329.4 1192.3 1330.0 1188.7 1330.7 1185.2C1331.4 1181.7 1332.0 1178.2 1332.8 1174.7C1333.6 1171.1 1334.6 1167.6 1335.6 1164.1C1336.4 1161.2 1337.3 1158.4 1338.4 1155.6C1339.4 1153.2 1340.4 1150.5 1342.0 1148.5C1343.6 1146.6 1346.5 1143.0 1348.1 1143.9C1351.4 1145.8 1354.5 1152.3 1356.8 1157.0C1359.6 1162.5 1360.5 1169.1 1363.4 1174.4C1364.9 1177.1 1368.3 1182.0 1369.9 1181.0C1372.7 1179.1 1375.1 1171.1 1376.4 1165.7C1379.1 1154.3 1380.3 1142.5 1381.9 1130.8C1383.9 1116.3 1385.4 1101.7 1387.3 1087.2C1389.0 1074.1 1390.5 1061.0 1392.8 1048.0C1394.1 1040.6 1395.3 1032.8 1398.2 1026.2C1399.3 1023.7 1402.8 1020.1 1404.8 1020.7C1407.9 1021.6 1411.5 1026.7 1413.5 1030.5C1417.3 1037.9 1420.1 1046.3 1422.2 1054.5C1424.9 1065.2 1426.3 1076.2 1427.7 1087.2C1429.0 1097.4 1429.6 1107.7 1430.5 1118.0C1431.2 1125.2 1431.8 1132.4 1432.5 1139.6C1433.1 1146.0 1434.0 1152.4 1434.6 1158.8C1435.1 1164.2 1435.6 1169.5 1436.0 1174.9C1436.6 1182.1 1437.1 1189.2 1437.6 1196.4C1438.6 1209.3 1439.4 1222.1 1440.6 1235.0C1441.4 1244.0 1442.4 1253.0 1443.5 1262.0C1444.5 1270.2 1445.5 1278.4 1447.0 1286.5C1448.2 1293.0 1449.7 1299.4 1451.4 1305.8C1452.5 1309.7 1453.4 1313.9 1455.4 1317.3C1456.6 1319.3 1458.9 1321.0 1461.0 1322.0C1463.7 1323.3 1466.9 1324.2 1470.0 1324.3C1495.9 1325.0 1522.0 1324.3 1548.0 1324.3"/>
<path transform="translate(0.9,0)" d="M243.0 1324.3C269.3 1324.3 295.7 1324.8 322.0 1324.3C324.4 1324.2 327.0 1323.7 329.0 1322.5C331.7 1320.9 334.8 1318.8 336.1 1316.0C339.2 1309.3 340.9 1301.5 342.4 1294.0C344.5 1283.7 345.5 1273.1 347.1 1262.7C348.7 1252.2 350.5 1241.8 351.8 1231.3C353.1 1220.9 353.9 1210.4 355.0 1199.9C356.0 1189.4 356.9 1179.0 358.1 1168.5C359.5 1155.4 360.4 1142.2 362.8 1129.3C364.1 1122.3 367.0 1108.9 369.1 1108.9C371.2 1108.9 374.1 1122.3 375.4 1129.3C377.8 1142.2 378.7 1155.4 380.1 1168.5C381.8 1184.2 383.1 1199.9 384.8 1215.6C386.2 1228.7 387.8 1241.8 389.5 1254.9C390.9 1265.4 391.8 1276.1 394.2 1286.3C395.2 1290.7 397.9 1298.8 399.7 1298.8C401.5 1298.8 404.0 1290.7 405.2 1286.3C407.4 1278.6 408.3 1270.6 409.9 1262.7C411.5 1254.9 413.0 1247.0 414.6 1239.2C416.2 1231.3 417.5 1223.4 419.3 1215.6C421.1 1207.7 422.9 1199.7 425.6 1192.1C426.6 1189.4 428.2 1185.8 430.3 1184.9C431.9 1184.2 434.5 1187.2 436.6 1187.4C438.2 1187.6 440.5 1187.3 441.6 1186.2C443.8 1184.0 444.9 1180.3 446.7 1177.4C448.3 1174.8 450.8 1172.6 451.7 1169.8C453.7 1163.8 454.4 1157.2 455.5 1150.9C456.9 1142.9 457.8 1134.9 459.3 1126.9C460.4 1121.0 461.0 1114.7 463.1 1109.2C464.1 1106.5 466.9 1102.3 468.8 1102.3C470.7 1102.3 473.3 1106.5 474.4 1109.2C476.5 1114.3 477.0 1120.1 478.2 1125.6C480.0 1134.0 481.4 1142.5 483.3 1150.9C484.8 1157.3 486.1 1163.8 488.3 1169.8C488.7 1170.8 490.1 1172.0 490.9 1171.7C492.6 1171.1 495.4 1169.4 495.9 1167.3C498.3 1157.4 498.7 1146.3 499.7 1135.7C500.8 1123.1 501.4 1110.5 502.2 1097.9C503.0 1085.3 504.0 1072.6 504.7 1060.0C506.2 1031.7 507.3 1003.3 508.8 975.0C509.8 953.8 511.0 932.7 512.1 911.5C512.8 898.7 513.3 885.8 514.0 873.0C514.6 860.2 515.0 847.4 516.0 834.6C517.0 821.7 518.2 808.8 519.8 796.0C521.0 786.4 522.4 776.6 524.6 767.3C525.1 765.1 527.0 760.8 528.1 761.5C530.2 762.7 533.0 768.9 534.2 773.0C536.3 780.4 537.0 788.3 538.0 796.0C539.6 808.8 540.5 821.7 542.0 834.6C543.4 847.4 545.3 860.2 546.7 873.0C548.1 885.8 548.9 898.7 550.6 911.5C551.8 921.2 553.3 930.9 555.4 940.4C557.5 950.1 560.7 959.6 563.1 969.2C564.8 975.8 566.7 982.4 567.7 989.2C569.2 999.4 569.8 1009.7 570.8 1020.0C571.8 1030.3 572.7 1040.6 573.8 1050.8C575.0 1061.1 576.2 1071.3 577.7 1081.5C578.8 1089.2 580.1 1096.9 581.5 1104.6C582.6 1110.8 583.2 1120.2 585.4 1123.1C586.3 1124.3 589.8 1119.4 590.8 1116.9C593.7 1109.6 595.0 1101.5 596.9 1093.8C598.5 1087.2 599.6 1080.4 601.5 1073.8C602.7 1069.6 604.2 1065.4 606.2 1061.5C607.8 1058.2 610.3 1055.4 612.3 1052.3C614.4 1049.2 617.0 1046.4 618.5 1043.1C620.6 1038.2 621.8 1032.9 623.1 1027.7C624.4 1022.6 625.5 1017.5 626.2 1012.3C627.5 1002.1 628.0 991.7 629.2 981.5C630.1 973.8 631.4 966.2 632.3 958.5C633.2 950.8 633.8 943.1 634.6 935.4C635.2 930.3 636.2 925.2 636.5 920.0C638.4 889.6 639.2 859.0 641.3 828.6C643.3 799.1 646.4 769.7 648.7 740.2C650.9 711.9 652.1 683.6 654.6 655.4C655.6 643.8 657.7 632.3 659.2 620.7C660.4 611.1 661.0 601.4 662.7 591.9C663.3 588.7 665.1 582.0 666.1 582.7C667.8 583.9 669.9 592.6 670.8 597.7C672.2 605.2 672.5 613.0 673.1 620.7C674.0 632.3 674.6 643.8 675.4 655.4C676.4 670.3 677.4 685.3 678.4 700.2C679.3 713.9 680.1 727.5 681.0 741.2C681.8 754.9 682.7 768.5 683.5 782.2C684.4 795.9 685.1 809.5 686.1 823.2C686.6 830.0 687.4 836.9 687.8 843.7C688.3 850.8 688.5 857.8 688.8 864.9C689.4 879.9 689.2 894.9 690.6 909.8C691.3 917.4 692.8 925.2 695.1 932.2C695.8 934.2 698.9 938.1 699.6 936.7C702.5 930.6 704.4 918.9 705.9 909.8C707.4 900.9 707.7 891.8 708.6 882.8C709.5 873.8 710.4 864.9 711.3 855.9C712.2 846.9 713.3 838.0 714.0 829.0C715.4 811.0 716.3 793.0 717.5 775.0C718.8 754.3 719.9 733.6 721.5 713.0C722.7 697.6 724.4 682.2 726.1 666.9C727.4 655.3 728.8 643.8 730.7 632.3C731.9 625.3 733.0 618.0 735.4 611.5C736.4 608.8 739.2 604.6 741.1 604.6C743.0 604.6 744.9 609.3 746.9 611.5C748.7 613.5 751.0 617.6 752.7 617.3C754.8 616.9 757.5 612.3 758.4 609.2C760.6 601.9 760.7 593.8 761.9 586.1C763.0 578.4 764.2 570.8 765.3 563.1C766.5 555.4 767.8 547.7 768.8 540.0C770.7 525.2 771.4 510.1 774.0 495.4C775.1 489.3 777.5 483.3 779.9 477.7C780.5 476.4 781.8 474.6 783.0 474.5C784.5 474.4 786.9 477.8 788.0 477.0C789.9 475.6 791.5 471.2 792.0 468.0C794.4 453.0 795.3 437.5 796.7 422.3C798.1 406.8 799.3 391.3 800.4 375.8C801.5 360.3 802.3 344.9 803.2 329.4C804.1 313.9 804.8 298.4 806.0 282.9C807.0 270.5 808.0 258.1 809.7 245.8C810.8 237.7 812.0 229.3 814.3 221.6C814.8 220.0 817.0 217.4 818.0 217.9C819.5 218.7 821.2 222.6 821.8 225.3C823.7 233.8 824.4 242.6 825.5 251.3C826.9 261.8 828.1 272.4 829.2 282.9C830.5 295.3 831.7 307.7 832.9 320.1C834.1 332.5 835.2 344.9 836.6 357.3C838.0 369.7 839.4 382.1 841.3 394.4C842.8 403.8 844.4 413.2 846.9 422.3C848.5 428.0 850.6 433.9 853.4 439.0C854.5 440.9 856.6 442.5 858.5 443.5C859.3 443.9 861.0 444.1 861.3 443.3C863.2 437.6 864.0 430.5 865.1 424.1C866.6 415.6 868.0 407.1 869.0 398.5C870.5 385.7 871.7 372.8 872.8 360.0C873.9 346.7 874.1 333.3 875.7 320.1C876.3 315.0 877.8 310.0 879.4 305.2C880.2 302.8 882.2 298.1 883.1 298.5C884.2 299.0 885.0 304.8 885.5 308.0C886.4 313.6 886.9 319.3 887.5 325.0C888.2 331.7 888.7 338.3 889.2 345.0C889.7 351.5 890.0 358.1 890.5 364.6C891.1 372.3 891.7 380.0 892.3 387.7C892.8 395.4 893.3 403.1 893.8 410.8C894.3 418.5 895.0 426.1 895.4 433.8C896.0 444.1 896.3 454.3 896.9 464.6C897.3 472.3 898.0 480.0 898.5 487.7C899.2 498.5 899.9 509.2 900.5 520.0C901.2 533.3 901.7 546.7 902.3 560.0C903.2 580.5 903.8 601.0 904.8 621.5C905.6 637.2 906.3 652.9 907.5 668.6C908.7 684.5 910.4 700.3 912.2 716.1C913.6 728.8 915.2 741.5 917.0 754.1C917.7 758.8 918.6 763.4 919.5 768.0C920.1 771.2 920.6 776.7 921.6 777.5C922.2 778.0 924.0 774.0 924.5 772.0C925.5 768.1 925.9 764.0 926.2 760.0C927.4 744.6 928.0 729.2 929.2 713.8C930.3 698.4 931.9 683.1 933.1 667.7C934.3 652.3 935.5 636.9 936.2 621.5C937.2 599.7 937.2 577.8 938.0 556.0C938.4 546.2 938.9 536.4 939.8 526.7C940.4 520.4 941.2 514.1 942.5 508.0C943.2 504.7 945.0 497.7 945.9 498.5C947.4 499.7 948.9 508.6 949.7 513.8C951.0 522.3 951.8 530.9 952.3 539.5C953.5 561.7 953.7 584.0 954.6 606.2C955.2 621.6 956.1 636.9 956.9 652.3C957.7 667.7 958.3 683.1 959.2 698.5C960.1 713.9 961.2 729.2 962.3 744.6C963.5 761.4 964.4 778.2 966.0 795.0C967.5 811.3 969.6 827.5 971.5 843.8C973.6 861.7 975.7 879.7 977.8 897.6C979.9 915.5 982.0 933.5 983.9 951.4C985.3 964.9 986.6 978.3 987.7 991.8C988.8 1004.5 989.6 1017.3 990.5 1030.0C991.4 1043.0 992.3 1056.0 993.0 1069.0C994.0 1087.9 994.8 1106.8 995.8 1125.7C996.7 1144.5 997.5 1163.4 998.7 1182.2C999.9 1201.0 1001.2 1219.8 1002.9 1238.6C1003.7 1247.4 1004.8 1256.2 1006.0 1265.0C1007.1 1273.2 1008.1 1281.4 1009.8 1289.4C1011.6 1297.7 1013.2 1306.4 1016.5 1314.0C1017.9 1317.1 1021.0 1319.9 1024.0 1321.5C1027.2 1323.3 1031.2 1324.2 1035.0 1324.2C1110.6 1325.1 1186.4 1324.8 1262.0 1324.3C1264.7 1324.3 1267.6 1323.7 1270.0 1322.5C1272.0 1321.6 1273.7 1319.8 1275.0 1318.0C1276.5 1315.9 1277.3 1313.3 1278.2 1310.9C1281.0 1303.6 1284.1 1296.2 1286.3 1288.7C1289.1 1279.0 1290.8 1269.0 1293.3 1259.2C1294.2 1255.7 1295.1 1252.1 1296.5 1248.7C1297.9 1245.3 1299.8 1241.9 1301.8 1238.8C1303.2 1236.7 1304.9 1234.8 1306.7 1233.2C1308.9 1231.3 1311.5 1230.0 1313.8 1228.2C1315.5 1226.9 1317.4 1225.6 1318.7 1224.0C1320.4 1221.9 1321.9 1219.5 1322.9 1217.0C1324.2 1213.6 1324.8 1209.9 1325.7 1206.4C1326.7 1202.9 1327.8 1199.4 1328.6 1195.8C1329.4 1192.3 1330.0 1188.7 1330.7 1185.2C1331.4 1181.7 1332.0 1178.2 1332.8 1174.7C1333.6 1171.1 1334.6 1167.6 1335.6 1164.1C1336.4 1161.2 1337.3 1158.4 1338.4 1155.6C1339.4 1153.2 1340.4 1150.5 1342.0 1148.5C1343.6 1146.6 1346.5 1143.0 1348.1 1143.9C1351.4 1145.8 1354.5 1152.3 1356.8 1157.0C1359.6 1162.5 1360.5 1169.1 1363.4 1174.4C1364.9 1177.1 1368.3 1182.0 1369.9 1181.0C1372.7 1179.1 1375.1 1171.1 1376.4 1165.7C1379.1 1154.3 1380.3 1142.5 1381.9 1130.8C1383.9 1116.3 1385.4 1101.7 1387.3 1087.2C1389.0 1074.1 1390.5 1061.0 1392.8 1048.0C1394.1 1040.6 1395.3 1032.8 1398.2 1026.2C1399.3 1023.7 1402.8 1020.1 1404.8 1020.7C1407.9 1021.6 1411.5 1026.7 1413.5 1030.5C1417.3 1037.9 1420.1 1046.3 1422.2 1054.5C1424.9 1065.2 1426.3 1076.2 1427.7 1087.2C1429.0 1097.4 1429.6 1107.7 1430.5 1118.0C1431.2 1125.2 1431.8 1132.4 1432.5 1139.6C1433.1 1146.0 1434.0 1152.4 1434.6 1158.8C1435.1 1164.2 1435.6 1169.5 1436.0 1174.9C1436.6 1182.1 1437.1 1189.2 1437.6 1196.4C1438.6 1209.3 1439.4 1222.1 1440.6 1235.0C1441.4 1244.0 1442.4 1253.0 1443.5 1262.0C1444.5 1270.2 1445.5 1278.4 1447.0 1286.5C1448.2 1293.0 1449.7 1299.4 1451.4 1305.8C1452.5 1309.7 1453.4 1313.9 1455.4 1317.3C1456.6 1319.3 1458.9 1321.0 1461.0 1322.0C1463.7 1323.3 1466.9 1324.2 1470.0 1324.3C1495.9 1325.0 1522.0 1324.3 1548.0 1324.3"/>
</g>
<rect x="1064" y="1238.4" width="236.3" height="108.9" fill="none" stroke="#000" stroke-width="5.5" stroke-dasharray="39.5 15.7"/>
<polygon points="1240.3,1018.8 1253.7,1082.8 1236.9,1076.7 1190.5,1200.6 1157.5,1188.5 1203.3,1063.9 1186.4,1057.9" fill="#fff" stroke="#000" stroke-width="3.4" stroke-linejoin="miter"/>
<g>
<rect x="1066.4" y="521.2" width="716.7" height="415.5" fill="#fff"/>
<g stroke="#222" stroke-width="3.8" stroke-dasharray="19.3 8.4" fill="none">
<line x1="1066.4" y1="521.2" x2="1783.1" y2="521.2" stroke-dashoffset="27"/>
<line x1="1783.1" y1="521.2" x2="1783.1" y2="936.7" stroke-dashoffset="25.15"/>
<line x1="1066.4" y1="936.7" x2="1783.1" y2="936.7" stroke-dashoffset="22.4"/>
<line x1="1066.4" y1="521.2" x2="1066.4" y2="936.7" stroke-dashoffset="21.5"/>
</g>
<rect x="1117.7" y="546.9" width="627.0" height="312.6" fill="none" stroke="#111" stroke-width="3"/>
<line x1="1117.7" y1="828.2" x2="1128.2" y2="828.2" stroke="#111" stroke-width="2.6"/>
<line x1="1117.7" y1="734.5" x2="1128.2" y2="734.5" stroke="#111" stroke-width="2.6"/>
<line x1="1117.7" y1="640.7" x2="1128.2" y2="640.7" stroke="#111" stroke-width="2.6"/>
<line x1="1207.3" y1="859.5" x2="1207.3" y2="851.0" stroke="#111" stroke-width="2.6"/>
<line x1="1386.4" y1="859.5" x2="1386.4" y2="851.0" stroke="#111" stroke-width="2.6"/>
<line x1="1565.5" y1="859.5" x2="1565.5" y2="851.0" stroke="#111" stroke-width="2.6"/>
<g font-size="27" font-weight="normal" text-anchor="end" fill="#111">
<text x="1107" y="836.0">1</text>
<text x="1107" y="742.3">4</text>
<text x="1107" y="648.5">7</text>
<text x="1107" y="554.7">10</text>
</g>
<g font-size="27" text-anchor="middle" fill="#111">
<text x="1205.8" y="891">3</text>
<text x="1384.9" y="891">4</text>
<text x="1564.0" y="891">5</text>
<text x="1743.2" y="891">6</text>
</g>
<clipPath id="ic"><rect x="1300" y="900" width="250" height="34"/></clipPath>
<text x="1429" y="932" font-size="26" text-anchor="middle" fill="#111" clip-path="url(#ic)">Energy(eV)</text>
<path d="M1117.7 859.5C1238.8 859.5 1360.0 860.2 1481.0 859.5C1484.4 859.5 1487.7 858.1 1491.0 857.2C1494.5 856.2 1498.1 855.2 1501.5 853.8C1505.1 852.3 1508.7 850.5 1512.1 848.5C1515.8 846.3 1519.3 843.8 1522.6 841.0C1525.4 838.6 1528.2 836.0 1530.5 833.1C1533.4 829.5 1535.8 825.4 1538.3 821.5C1540.2 818.6 1542.0 815.7 1543.6 812.6C1545.6 808.7 1547.0 804.5 1548.9 800.5C1550.5 797.0 1552.4 793.5 1554.1 790.0C1556.6 784.8 1558.9 779.4 1561.5 774.3C1564.9 767.6 1568.7 761.2 1572.3 754.6C1575.9 748.0 1579.2 741.2 1583.1 734.8C1585.8 730.4 1588.7 726.2 1592.0 722.3C1595.3 718.4 1598.8 714.6 1602.8 711.5C1606.6 708.6 1611.1 706.5 1615.4 704.3C1619.4 702.3 1624.0 701.3 1627.9 699.0C1631.2 697.1 1634.3 694.6 1636.9 691.8C1640.3 688.0 1643.0 683.5 1645.9 679.2C1649.0 674.5 1652.1 669.8 1654.8 664.9C1658.0 659.0 1660.8 652.9 1663.8 646.9C1666.8 640.9 1669.8 635.0 1672.8 629.0C1675.5 623.7 1677.8 618.0 1681.0 613.0C1683.5 609.0 1686.6 605.2 1690.0 602.0C1692.3 599.9 1695.2 598.2 1698.0 597.0C1700.5 595.9 1703.3 595.0 1706.0 595.0C1709.0 595.0 1712.3 595.6 1715.0 597.0C1718.7 598.9 1722.0 602.0 1725.0 605.0C1728.7 608.8 1731.8 613.2 1735.0 617.5C1738.3 621.9 1741.4 626.5 1744.6 631.0" fill="none" stroke="#f00" stroke-width="2.6" stroke-linejoin="round"/>
<path d="M1117.7 859.5C1246.8 859.5 1375.9 860.0 1505.0 859.5C1511.8 859.5 1518.5 858.8 1525.2 858.0C1528.7 857.6 1532.2 856.6 1535.7 855.7C1538.4 855.0 1541.0 854.0 1543.6 853.1C1546.2 852.2 1549.0 851.4 1551.5 850.2C1554.3 848.8 1556.9 847.0 1559.4 845.2C1561.3 843.8 1563.0 842.2 1564.6 840.5C1566.5 838.4 1568.2 835.9 1569.9 833.6C1572.0 830.8 1573.9 827.9 1575.9 825.0C1578.9 820.7 1582.1 816.5 1584.9 812.0C1588.1 806.8 1591.1 801.3 1593.8 795.8C1597.0 789.3 1599.7 782.6 1602.8 776.1C1605.7 770.1 1608.8 764.2 1611.8 758.2C1614.8 752.2 1617.5 746.0 1620.7 740.2C1623.4 735.3 1626.2 730.3 1629.7 725.9C1632.8 721.9 1636.5 718.1 1640.5 715.1C1643.7 712.7 1647.5 711.1 1651.3 709.7C1655.9 708.1 1661.0 707.7 1665.6 706.1C1669.9 704.7 1674.3 703.1 1678.2 700.7C1682.1 698.3 1685.5 694.9 1688.9 691.8C1692.0 688.9 1695.2 686.0 1697.9 682.8C1701.8 678.2 1705.5 673.5 1708.7 668.4C1712.7 662.1 1715.7 655.2 1719.4 648.7C1722.2 643.8 1725.5 639.2 1728.4 634.4C1730.9 630.3 1733.3 626.1 1735.6 621.8C1738.7 615.9 1741.6 609.9 1744.6 604.0" fill="none" stroke="#00f" stroke-width="2.6" stroke-linejoin="round"/>
<g font-size="47" text-anchor="end">
<text x="1382.5" y="711.8">5.250eV</text>
<text x="1382.5" y="808.3">4.986eV</text>
</g>
<line x1="1399" y1="698.8" x2="1550" y2="698.8" stroke="#00bfff" stroke-width="5" stroke-dasharray="15.6 4.6"/>
<polygon points="1546.2,688.9 1565,698.8 1546.2,708.6" fill="#00bfff"/>
<line x1="1399" y1="796.6" x2="1516" y2="796.6" stroke="#f00" stroke-width="5" stroke-dasharray="15.6 4.6"/>
<polygon points="1512.5,787.2 1531.4,796.6 1512.5,806" fill="#f00"/>
<line x1="1577" y1="684.9" x2="1577" y2="859.5" stroke="#00bfff" stroke-width="7.6" stroke-dasharray="7.4 7.7"/>
<line x1="1546" y1="730.7" x2="1546" y2="859.5" stroke="#f00" stroke-width="7.6" stroke-dasharray="7.4 7.7"/>
</g>
</svg>
</body></html>
